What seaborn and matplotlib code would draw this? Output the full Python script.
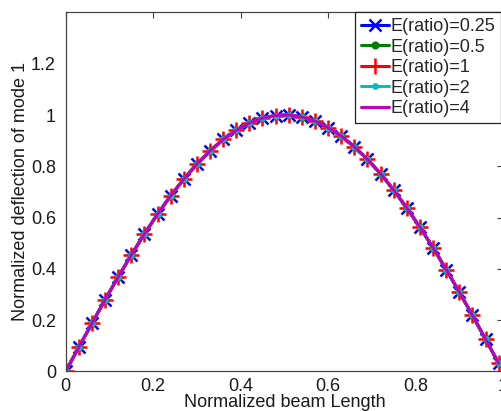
import seaborn as sns
import pandas as pd
import matplotlib
matplotlib.use("Agg")
import matplotlib.pyplot as plt

# beam positions where the mode shape was sampled
beam_x = [0.00, 0.03, 0.06, 0.09, 0.12, 0.15, 0.18, 0.21, 0.24, 0.27, 0.30, 0.33,
          0.36, 0.39, 0.42, 0.45, 0.48, 0.51, 0.54, 0.57, 0.60, 0.63, 0.66, 0.69,
          0.72, 0.75, 0.78, 0.81, 0.84, 0.87, 0.90, 0.93, 0.96, 0.99]

# normalized deflection (all curves overlap)
defl_025 = [0.000, 0.094, 0.187, 0.279, 0.368, 0.454, 0.536, 0.613, 0.685, 0.750, 0.809, 0.860,
            0.905, 0.940, 0.969, 0.988, 0.998, 1.000, 0.992, 0.976, 0.951, 0.918, 0.876, 0.827,
            0.771, 0.707, 0.637, 0.562, 0.482, 0.397, 0.309, 0.218, 0.125, 0.031]
defl_05 = list(defl_025)
defl_1 = list(defl_025)
defl_2 = list(defl_025)
defl_4 = list(defl_025)

labels = ["E(ratio)=0.25", "E(ratio)=0.5", "E(ratio)=1", "E(ratio)=2", "E(ratio)=4"]
series = [defl_025, defl_05, defl_1, defl_2, defl_4]
colors = ["#0000ff", "#008000", "#ff0000", "#00bfbf", "#bf00bf"]
markers = ["x", "o", "+", "o", None]
msizes = [9, 4, 11, 3, 0]

sns.set_theme(style="white")
plt.rcParams["font.family"] = ["Liberation Sans", "DejaVu Sans"]

rows = []
for lab, ys in zip(labels, series):
    for x, y in zip(beam_x, ys):
        rows.append({"x": x, "y": y, "series": lab})
df = pd.DataFrame(rows)

fig = plt.figure(figsize=(5.01, 4.11), dpi=100)
ax = fig.add_axes([0.1311, 0.0966, 0.873, 0.873])

for lab, col, mk, ms in zip(labels, colors, markers, msizes):
    kw = {}
    if mk is not None:
        kw = dict(marker=mk, markersize=ms, markeredgewidth=1.8,
                  markeredgecolor=col, markerfacecolor=col)
    sns.lineplot(data=df[df["series"] == lab], x="x", y="y", color=col,
                 linewidth=2.2, label=lab, ax=ax, **kw)

ax.set_xlim(0, 1)
ax.set_ylim(0, 1.4)
ax.set_xticks([0, 0.2, 0.4, 0.6, 0.8, 1.0])
ax.set_xticklabels(["0", "0.2", "0.4", "0.6", "0.8", "1"])
ax.set_yticks([0, 0.2, 0.4, 0.6, 0.8, 1.0, 1.2])
ax.set_yticklabels(["0", "0.2", "0.4", "0.6", "0.8", "1", "1.2"])
ax.tick_params(direction="in", length=4, width=0.8, color="#444444",
               labelsize=13, top=True, right=True, labelcolor="#1a1a1a")
ax.tick_params(axis="x", pad=5)
ax.tick_params(axis="y", pad=7)
for s in ax.spines.values():
    s.set_color("#444444")
    s.set_linewidth(0.9)

ax.set_xlabel("Normalized beam Length", fontsize=13, labelpad=-1, color="#1a1a1a")
ax.set_ylabel("Normalized deflection of mode 1", fontsize=13, labelpad=1, color="#1a1a1a")

leg = ax.legend(loc="upper right", fontsize=13, frameon=True, fancybox=False,
                handlelength=1.55, handletextpad=0.1, labelspacing=0.2,
                borderpad=0.3, borderaxespad=0.0, bbox_to_anchor=(0.995, 1.0))
leg.get_frame().set_edgecolor("#222222")
leg.get_frame().set_linewidth(0.9)
leg.get_frame().set_alpha(1)

fig.savefig("out.png", dpi=100)
